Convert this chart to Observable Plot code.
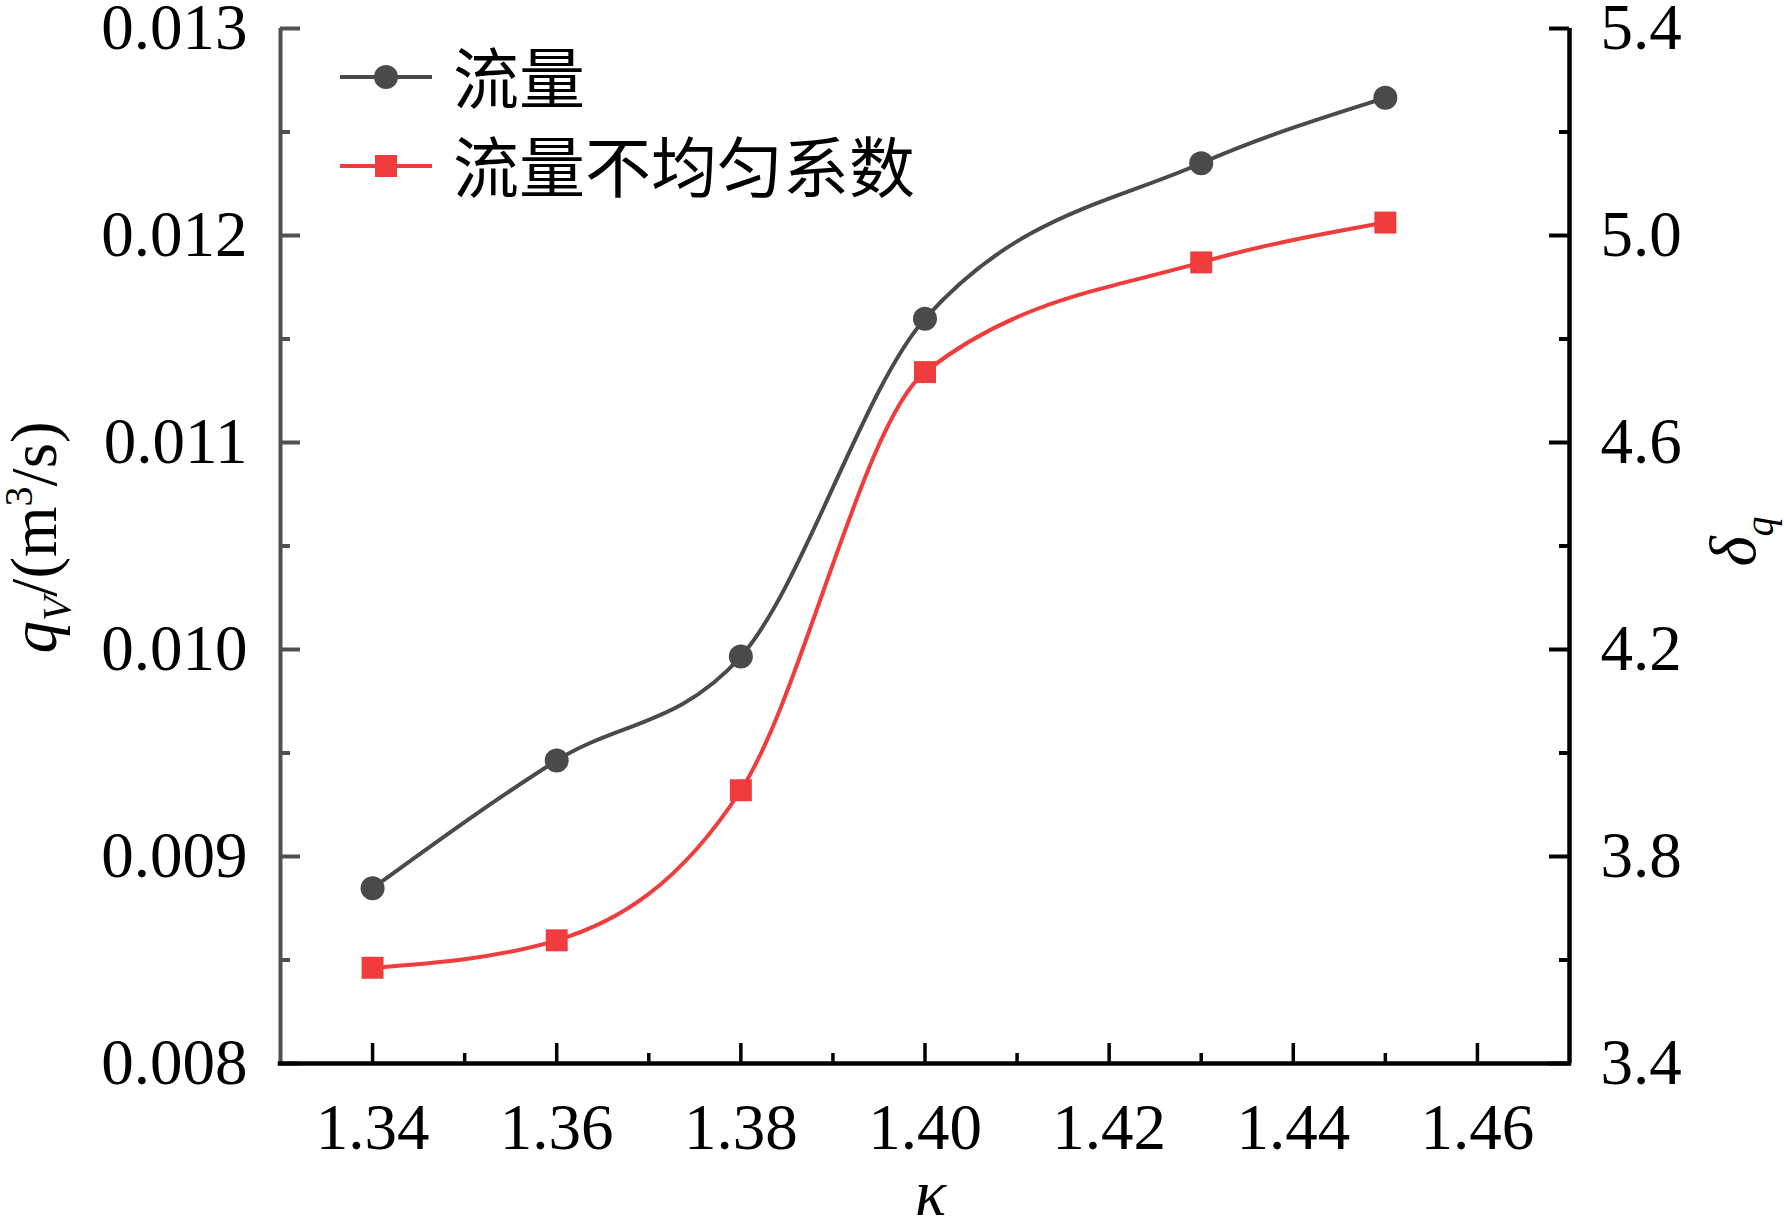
<!DOCTYPE html>
<html>
<head>
<meta charset="utf-8">
<script src="https://cdn.jsdelivr.net/npm/d3@7"></script>
<script src="https://cdn.jsdelivr.net/npm/@observablehq/plot@0.6"></script>
<style>
  html, body { margin: 0; padding: 0; background: #fff; }
  #chart svg { display: block; }
</style>
</head>
<body>
<div id="chart"></div>
<script>
// ---- data ----
const kappa = [1.34, 1.36, 1.38, 1.40, 1.43, 1.45];
const flowRate = [0.008847, 0.009464, 0.009966, 0.011598, 0.012349, 0.012665];
const nonUniformity = [3.585, 3.638, 3.928, 4.736, 4.948, 5.025];

const xTicks = [1.34, 1.36, 1.38, 1.40, 1.42, 1.44, 1.46];
const xMinorTicks = [1.35, 1.37, 1.39, 1.41, 1.43, 1.45];
const yLeftTicks = [0.008, 0.009, 0.010, 0.011, 0.012, 0.013];
const yLeftMinorTicks = [0.0085, 0.0095, 0.0105, 0.0115, 0.0125];
const yRightTicks = [3.4, 3.8, 4.2, 4.6, 5.0, 5.4];
const yRightMinorTicks = [3.6, 4.0, 4.4, 4.8, 5.2];
const legendLabels = ["流量", "流量不均匀系数"];

const xDomain = [1.33, 1.47];
const yLeftDomain = [0.008, 0.013];
const yRightDomain = [3.4, 5.4];

// ---- layout ----
const W = 1784, H = 1217;
const mL = 280, mR = 215, mT = 28, mB = 154;
const plotW = W - mL - mR, plotH = H - mT - mB;
const GRAY = "#4a4a4a", RED = "#f03c3c", AXGRAY = "#505050";
const SERIF = "'Liberation Serif', 'Times New Roman', serif";
const CJK = "'Noto Sans CJK SC', sans-serif";

// map right-axis values onto the left scale
const toLeft = v => yLeftDomain[0] + (v - yRightDomain[0]) / (yRightDomain[1] - yRightDomain[0]) * (yLeftDomain[1] - yLeftDomain[0]);

const flowData = kappa.map((k, i) => ({k, v: flowRate[i]}));
const nuData = kappa.map((k, i) => ({k, v: nonUniformity[i]}));

const chart = Plot.plot({
  width: W, height: H,
  marginLeft: mL, marginRight: mR, marginTop: mT, marginBottom: mB,
  x: {domain: xDomain},
  y: {domain: yLeftDomain},
  style: {fontFamily: SERIF, fontSize: "65px", background: "#fff", color: "#000", overflow: "visible"},
  marks: [
    // tick labels
    Plot.axisX(xTicks, {tickSize: 0, tickPadding: 39, tickFormat: d => d.toFixed(2), label: null}),
    Plot.axisY(yLeftTicks, {tickSize: 0, tickPadding: 33, tickFormat: d => d.toFixed(3), label: null}),
    Plot.text(yRightTicks, {y: toLeft, text: d => d.toFixed(1), frameAnchor: "right", dx: 31, textAnchor: "start", lineAnchor: "middle"}),
    // inward ticks
    Plot.tickY(yLeftTicks, {y: d => d, stroke: AXGRAY, strokeWidth: 4, insetRight: plotW - 20}),
    Plot.tickY(yLeftMinorTicks, {y: d => d, stroke: AXGRAY, strokeWidth: 4, insetRight: plotW - 10}),
    Plot.tickY(yRightTicks, {y: toLeft, stroke: "#000", strokeWidth: 4, insetLeft: plotW - 20}),
    Plot.tickY(yRightMinorTicks, {y: toLeft, stroke: "#000", strokeWidth: 4, insetLeft: plotW - 10}),
    Plot.tickX(xTicks, {x: d => d, stroke: "#000", strokeWidth: 3.5, insetTop: plotH - 20}),
    Plot.tickX(xMinorTicks, {x: d => d, stroke: "#000", strokeWidth: 3.5, insetTop: plotH - 10}),
    // axis lines
    Plot.ruleX([xDomain[0]], {stroke: AXGRAY, strokeWidth: 4}),
    Plot.ruleX([xDomain[1]], {stroke: "#000", strokeWidth: 4.5}),
    Plot.ruleY([yLeftDomain[0]], {stroke: "#000", strokeWidth: 4.5, strokeLinecap: "square"}),
    // series
    Plot.line(flowData, {x: "k", y: "v", stroke: GRAY, strokeWidth: 4, curve: "monotone-x"}),
    Plot.line(nuData, {x: "k", y: d => toLeft(d.v), stroke: RED, strokeWidth: 4, curve: "monotone-x"}),
    Plot.dot(flowData, {x: "k", y: "v", r: 12, fill: GRAY, symbol: "circle"}),
    Plot.dot(nuData, {x: "k", y: d => toLeft(d.v), r: 12.4, fill: RED, symbol: "square"})
  ]
});

document.getElementById("chart").appendChild(chart);

// ---- titles and legend ----
const svg = d3.select(chart);
const g = svg.append("g").attr("font-family", SERIF).attr("font-size", 65).attr("fill", "#000");

// left title: qV/(m³/s)
const lt = g.append("text")
  .attr("transform", `translate(56,${(mT + H - mB) / 2 - 8}) rotate(-90)`)
  .attr("text-anchor", "middle");
lt.append("tspan").attr("font-style", "italic").text("q");
lt.append("tspan").attr("font-style", "italic").attr("font-size", 40).attr("dy", 14).text("V");
lt.append("tspan").attr("dy", -14).text("/(m");
lt.append("tspan").attr("font-size", 40).attr("dy", -24).text("3");
lt.append("tspan").attr("dy", 24).text("/s)");

// right title: δq
const rt = g.append("text")
  .attr("transform", `translate(1755,${(mT + H - mB) / 2 - 4}) rotate(-90)`)
  .attr("text-anchor", "middle");
rt.append("tspan").attr("font-style", "italic").text("δ");
rt.append("tspan").attr("font-style", "italic").attr("font-size", 40).attr("dy", 18).text("q");

// bottom title: κ
g.append("text")
  .attr("x", mL + plotW / 2 + 6).attr("y", 1215)
  .attr("text-anchor", "middle").attr("font-style", "italic")
  .text("κ");

// legend
const lg = svg.append("g").attr("text-anchor", "start");
const rows = [
  {label: legendLabels[0], color: GRAY, shape: "circle", y: 77},
  {label: legendLabels[1], color: RED, shape: "square", y: 166}
];
rows.forEach(r => {
  lg.append("line").attr("x1", 340).attr("x2", 432).attr("y1", r.y).attr("y2", r.y)
    .attr("stroke", r.color).attr("stroke-width", 4);
  if (r.shape === "circle") {
    lg.append("circle").attr("cx", 386).attr("cy", r.y).attr("r", 12).attr("fill", r.color);
  } else {
    lg.append("rect").attr("x", 386 - 11).attr("y", r.y - 11).attr("width", 22).attr("height", 22).attr("fill", r.color);
  }
  lg.append("text").attr("x", 453).attr("y", r.y - 3)
    .attr("text-anchor", "start")
    .attr("font-family", CJK).attr("font-size", 66).attr("fill", "#000")
    .attr("dominant-baseline", "central")
    .text(r.label);
});
</script>
</body>
</html>
